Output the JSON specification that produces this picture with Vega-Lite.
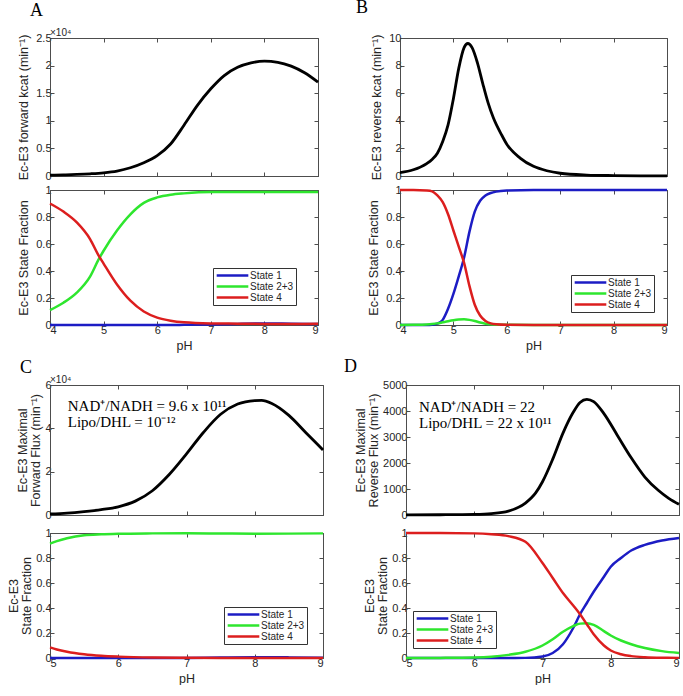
{
"$schema": "https://vega.github.io/schema/vega-lite/v6.json",
"background": "white",
"padding": {"left": 7, "top": -2, "right": 0, "bottom": 0},
"spacing": 5,
"resolve": {"scale": {"color": "independent"}, "legend": {"color": "independent"}},
"config": {
 "font": "Liberation Sans",
 "view": {"stroke": "#4d4d4d", "strokeWidth": 1},
 "axis": {"grid": false, "labelFont": "Liberation Sans", "labelFontSize": 11, "labelColor": "#262626", "titleFont": "Liberation Sans", "titleFontSize": 12.5, "titleFontWeight": "normal", "titleColor": "#262626", "domainColor": "#4d4d4d", "tickColor": "#4d4d4d", "tickSize": -4, "labelPadding": 3, "titlePadding": 4},
 "axisY": {"titlePadding": 5},
 "legend": {"orient": "none", "symbolType": "stroke", "symbolSize": 1000, "symbolStrokeWidth": 2.5, "clipHeight": 11, "labelFont": "Liberation Sans", "labelFontSize": 10, "labelColor": "#262626", "fillColor": "white", "strokeColor": "#333333", "padding": 2, "rowPadding": 0, "labelOffset": 0},
 "title": {"font": "Liberation Serif", "fontSize": 18, "fontWeight": "normal", "color": "black", "anchor": "start", "frame": "group", "offset": 18, "baseline": "alphabetic"}
},
"datasets": {
 "A_kcat": [{"pH":4,"v":0.015},{"pH":4.25,"v":0.02},{"pH":4.5,"v":0.028},{"pH":4.75,"v":0.04},{"pH":5,"v":0.058},{"pH":5.25,"v":0.09},{"pH":5.5,"v":0.15},{"pH":5.75,"v":0.24},{"pH":6,"v":0.37},{"pH":6.25,"v":0.58},{"pH":6.5,"v":0.92},{"pH":6.75,"v":1.28},{"pH":7,"v":1.58},{"pH":7.25,"v":1.82},{"pH":7.5,"v":1.97},{"pH":7.75,"v":2.05},{"pH":8,"v":2.08},{"pH":8.25,"v":2.06},{"pH":8.5,"v":1.99},{"pH":8.75,"v":1.87},{"pH":9,"v":1.7}],
 "B_kcat": [{"pH":4,"v":0.25},{"pH":4.25,"v":0.45},{"pH":4.5,"v":0.9},{"pH":4.6,"v":1.2},{"pH":4.7,"v":1.65},{"pH":4.8,"v":2.5},{"pH":4.9,"v":3.7},{"pH":5,"v":5.6},{"pH":5.1,"v":7.8},{"pH":5.2,"v":9.3},{"pH":5.27,"v":9.6},{"pH":5.35,"v":9.3},{"pH":5.45,"v":8.2},{"pH":5.55,"v":6.7},{"pH":5.65,"v":5.3},{"pH":5.75,"v":4.2},{"pH":5.9,"v":3.0},{"pH":6,"v":2.3},{"pH":6.25,"v":1.3},{"pH":6.5,"v":0.7},{"pH":6.75,"v":0.38},{"pH":7,"v":0.2},{"pH":7.5,"v":0.07},{"pH":8,"v":0.03},{"pH":8.5,"v":0.01},{"pH":9,"v":0.005}],
 "C_kcat": [{"pH":5,"v":0.05},{"pH":5.25,"v":0.09},{"pH":5.5,"v":0.16},{"pH":5.75,"v":0.25},{"pH":6,"v":0.38},{"pH":6.25,"v":0.64},{"pH":6.5,"v":1.12},{"pH":6.75,"v":1.88},{"pH":7,"v":2.82},{"pH":7.25,"v":3.82},{"pH":7.5,"v":4.65},{"pH":7.75,"v":5.12},{"pH":8,"v":5.28},{"pH":8.1,"v":5.29},{"pH":8.25,"v":5.15},{"pH":8.5,"v":4.6},{"pH":8.75,"v":3.8},{"pH":9,"v":3.0}],
 "D_kcat": [{"pH":5,"v":5},{"pH":5.5,"v":10},{"pH":6,"v":25},{"pH":6.25,"v":55},{"pH":6.5,"v":150},{"pH":6.75,"v":460},{"pH":6.9,"v":850},{"pH":7,"v":1280},{"pH":7.15,"v":2150},{"pH":7.3,"v":3150},{"pH":7.45,"v":3950},{"pH":7.55,"v":4330},{"pH":7.65,"v":4450},{"pH":7.75,"v":4360},{"pH":7.9,"v":3900},{"pH":8.1,"v":3050},{"pH":8.3,"v":2200},{"pH":8.5,"v":1460},{"pH":8.7,"v":940},{"pH":8.85,"v":640},{"pH":9,"v":410}],
 "A_frac": [
  {"pH":4,"s":"State 1","v":0},{"pH":4.25,"s":"State 1","v":0},{"pH":4.5,"s":"State 1","v":0},{"pH":4.75,"s":"State 1","v":0},{"pH":4.9,"s":"State 1","v":0},{"pH":5,"s":"State 1","v":0},{"pH":5.25,"s":"State 1","v":0},{"pH":5.5,"s":"State 1","v":0},{"pH":5.75,"s":"State 1","v":0},{"pH":6,"s":"State 1","v":0},{"pH":6.25,"s":"State 1","v":0},{"pH":6.5,"s":"State 1","v":0.001},{"pH":7,"s":"State 1","v":0.003},{"pH":7.5,"s":"State 1","v":0.008},{"pH":8,"s":"State 1","v":0.011},{"pH":8.5,"s":"State 1","v":0.01},{"pH":9,"s":"State 1","v":0.007},
  {"pH":4,"s":"State 2+3","v":0.11},{"pH":4.25,"s":"State 2+3","v":0.165},{"pH":4.5,"s":"State 2+3","v":0.24},{"pH":4.75,"s":"State 2+3","v":0.36},{"pH":4.9,"s":"State 2+3","v":0.48},{"pH":5,"s":"State 2+3","v":0.55},{"pH":5.25,"s":"State 2+3","v":0.7},{"pH":5.5,"s":"State 2+3","v":0.82},{"pH":5.75,"s":"State 2+3","v":0.905},{"pH":6,"s":"State 2+3","v":0.945},{"pH":6.25,"s":"State 2+3","v":0.965},{"pH":6.5,"s":"State 2+3","v":0.975},{"pH":7,"s":"State 2+3","v":0.985},{"pH":7.5,"s":"State 2+3","v":0.985},{"pH":8,"s":"State 2+3","v":0.985},{"pH":8.5,"s":"State 2+3","v":0.985},{"pH":9,"s":"State 2+3","v":0.985},
  {"pH":4,"s":"State 4","v":0.9},{"pH":4.25,"s":"State 4","v":0.84},{"pH":4.5,"s":"State 4","v":0.76},{"pH":4.75,"s":"State 4","v":0.635},{"pH":4.9,"s":"State 4","v":0.52},{"pH":5,"s":"State 4","v":0.455},{"pH":5.25,"s":"State 4","v":0.3},{"pH":5.5,"s":"State 4","v":0.18},{"pH":5.75,"s":"State 4","v":0.1},{"pH":6,"s":"State 4","v":0.055},{"pH":6.25,"s":"State 4","v":0.032},{"pH":6.5,"s":"State 4","v":0.02},{"pH":7,"s":"State 4","v":0.012},{"pH":7.5,"s":"State 4","v":0.01},{"pH":8,"s":"State 4","v":0.008},{"pH":8.5,"s":"State 4","v":0.008},{"pH":9,"s":"State 4","v":0.01}
 ],
 "B_frac": [
  {"pH":4,"s":"State 1","v":0},{"pH":4.25,"s":"State 1","v":0},{"pH":4.5,"s":"State 1","v":0},{"pH":4.6,"s":"State 1","v":0.002},{"pH":4.7,"s":"State 1","v":0.01},{"pH":4.8,"s":"State 1","v":0.038},{"pH":4.9,"s":"State 1","v":0.12},{"pH":5,"s":"State 1","v":0.23},{"pH":5.1,"s":"State 1","v":0.36},{"pH":5.2,"s":"State 1","v":0.5},{"pH":5.3,"s":"State 1","v":0.69},{"pH":5.4,"s":"State 1","v":0.84},{"pH":5.5,"s":"State 1","v":0.92},{"pH":5.6,"s":"State 1","v":0.96},{"pH":5.7,"s":"State 1","v":0.978},{"pH":5.8,"s":"State 1","v":0.988},{"pH":6,"s":"State 1","v":0.996},{"pH":6.5,"s":"State 1","v":1},{"pH":7,"s":"State 1","v":1},{"pH":8,"s":"State 1","v":1},{"pH":9,"s":"State 1","v":1},
  {"pH":4,"s":"State 2+3","v":0},{"pH":4.25,"s":"State 2+3","v":0.001},{"pH":4.5,"s":"State 2+3","v":0.004},{"pH":4.6,"s":"State 2+3","v":0.007},{"pH":4.7,"s":"State 2+3","v":0.012},{"pH":4.8,"s":"State 2+3","v":0.02},{"pH":4.9,"s":"State 2+3","v":0.028},{"pH":5,"s":"State 2+3","v":0.035},{"pH":5.1,"s":"State 2+3","v":0.04},{"pH":5.2,"s":"State 2+3","v":0.042},{"pH":5.3,"s":"State 2+3","v":0.038},{"pH":5.4,"s":"State 2+3","v":0.03},{"pH":5.5,"s":"State 2+3","v":0.018},{"pH":5.6,"s":"State 2+3","v":0.01},{"pH":5.7,"s":"State 2+3","v":0.005},{"pH":5.8,"s":"State 2+3","v":0.002},{"pH":6,"s":"State 2+3","v":0.001},{"pH":6.5,"s":"State 2+3","v":0},{"pH":7,"s":"State 2+3","v":0},{"pH":8,"s":"State 2+3","v":0},{"pH":9,"s":"State 2+3","v":0},
  {"pH":4,"s":"State 4","v":1},{"pH":4.25,"s":"State 4","v":1},{"pH":4.5,"s":"State 4","v":0.996},{"pH":4.6,"s":"State 4","v":0.99},{"pH":4.7,"s":"State 4","v":0.96},{"pH":4.8,"s":"State 4","v":0.91},{"pH":4.9,"s":"State 4","v":0.82},{"pH":5,"s":"State 4","v":0.7},{"pH":5.1,"s":"State 4","v":0.58},{"pH":5.2,"s":"State 4","v":0.46},{"pH":5.3,"s":"State 4","v":0.29},{"pH":5.4,"s":"State 4","v":0.15},{"pH":5.5,"s":"State 4","v":0.07},{"pH":5.6,"s":"State 4","v":0.03},{"pH":5.7,"s":"State 4","v":0.012},{"pH":5.8,"s":"State 4","v":0.005},{"pH":6,"s":"State 4","v":0.001},{"pH":6.5,"s":"State 4","v":0},{"pH":7,"s":"State 4","v":0},{"pH":8,"s":"State 4","v":0},{"pH":9,"s":"State 4","v":0}
 ],
 "C_frac": [
  {"pH":5,"s":"State 1","v":0},{"pH":5.1,"s":"State 1","v":0},{"pH":5.25,"s":"State 1","v":0},{"pH":5.5,"s":"State 1","v":0},{"pH":5.75,"s":"State 1","v":0},{"pH":6,"s":"State 1","v":0},{"pH":6.5,"s":"State 1","v":0},{"pH":7,"s":"State 1","v":0.001},{"pH":7.5,"s":"State 1","v":0.004},{"pH":8,"s":"State 1","v":0.006},{"pH":8.5,"s":"State 1","v":0.005},{"pH":9,"s":"State 1","v":0.003},
  {"pH":5,"s":"State 2+3","v":0.915},{"pH":5.1,"s":"State 2+3","v":0.935},{"pH":5.25,"s":"State 2+3","v":0.958},{"pH":5.5,"s":"State 2+3","v":0.982},{"pH":5.75,"s":"State 2+3","v":0.99},{"pH":6,"s":"State 2+3","v":0.994},{"pH":6.5,"s":"State 2+3","v":0.997},{"pH":7,"s":"State 2+3","v":0.998},{"pH":7.5,"s":"State 2+3","v":0.996},{"pH":8,"s":"State 2+3","v":0.994},{"pH":8.5,"s":"State 2+3","v":0.995},{"pH":9,"s":"State 2+3","v":0.997},
  {"pH":5,"s":"State 4","v":0.085},{"pH":5.1,"s":"State 4","v":0.068},{"pH":5.25,"s":"State 4","v":0.05},{"pH":5.5,"s":"State 4","v":0.03},{"pH":5.75,"s":"State 4","v":0.018},{"pH":6,"s":"State 4","v":0.011},{"pH":6.5,"s":"State 4","v":0.004},{"pH":7,"s":"State 4","v":0.002},{"pH":7.5,"s":"State 4","v":0.001},{"pH":8,"s":"State 4","v":0.001},{"pH":8.5,"s":"State 4","v":0.001},{"pH":9,"s":"State 4","v":0.001}
 ],
 "D_frac": [
  {"pH":5,"s":"State 1","v":0},{"pH":5.5,"s":"State 1","v":0},{"pH":6,"s":"State 1","v":0},{"pH":6.25,"s":"State 1","v":0},{"pH":6.5,"s":"State 1","v":0},{"pH":6.75,"s":"State 1","v":0.001},{"pH":7,"s":"State 1","v":0.012},{"pH":7.15,"s":"State 1","v":0.04},{"pH":7.3,"s":"State 1","v":0.11},{"pH":7.45,"s":"State 1","v":0.24},{"pH":7.55,"s":"State 1","v":0.35},{"pH":7.65,"s":"State 1","v":0.44},{"pH":7.75,"s":"State 1","v":0.53},{"pH":7.9,"s":"State 1","v":0.65},{"pH":8,"s":"State 1","v":0.73},{"pH":8.15,"s":"State 1","v":0.8},{"pH":8.3,"s":"State 1","v":0.86},{"pH":8.5,"s":"State 1","v":0.905},{"pH":8.75,"s":"State 1","v":0.94},{"pH":9,"s":"State 1","v":0.96},
  {"pH":5,"s":"State 2+3","v":0},{"pH":5.5,"s":"State 2+3","v":0.001},{"pH":6,"s":"State 2+3","v":0.004},{"pH":6.25,"s":"State 2+3","v":0.01},{"pH":6.5,"s":"State 2+3","v":0.025},{"pH":6.75,"s":"State 2+3","v":0.05},{"pH":7,"s":"State 2+3","v":0.1},{"pH":7.15,"s":"State 2+3","v":0.15},{"pH":7.3,"s":"State 2+3","v":0.21},{"pH":7.45,"s":"State 2+3","v":0.255},{"pH":7.55,"s":"State 2+3","v":0.275},{"pH":7.65,"s":"State 2+3","v":0.278},{"pH":7.75,"s":"State 2+3","v":0.265},{"pH":7.9,"s":"State 2+3","v":0.215},{"pH":8,"s":"State 2+3","v":0.18},{"pH":8.15,"s":"State 2+3","v":0.14},{"pH":8.3,"s":"State 2+3","v":0.11},{"pH":8.5,"s":"State 2+3","v":0.08},{"pH":8.75,"s":"State 2+3","v":0.055},{"pH":9,"s":"State 2+3","v":0.04},
  {"pH":5,"s":"State 4","v":1},{"pH":5.5,"s":"State 4","v":1},{"pH":6,"s":"State 4","v":0.997},{"pH":6.25,"s":"State 4","v":0.99},{"pH":6.5,"s":"State 4","v":0.975},{"pH":6.75,"s":"State 4","v":0.93},{"pH":7,"s":"State 4","v":0.76},{"pH":7.15,"s":"State 4","v":0.64},{"pH":7.3,"s":"State 4","v":0.52},{"pH":7.45,"s":"State 4","v":0.42},{"pH":7.55,"s":"State 4","v":0.35},{"pH":7.65,"s":"State 4","v":0.27},{"pH":7.75,"s":"State 4","v":0.19},{"pH":7.9,"s":"State 4","v":0.1},{"pH":8,"s":"State 4","v":0.06},{"pH":8.15,"s":"State 4","v":0.03},{"pH":8.3,"s":"State 4","v":0.015},{"pH":8.5,"s":"State 4","v":0.006},{"pH":8.75,"s":"State 4","v":0.002},{"pH":9,"s":"State 4","v":0.001}
 ]
},
"vconcat": [
 {"hconcat": [
  {"vconcat": [
   {"width": 268, "height": 138, "title": {"text": "A", "dx": -20, "offset": 8}, "data": {"name": "A_kcat"},
    "layer": [
     {"mark": {"type": "line", "color": "black", "strokeWidth": 2.8, "interpolate": "monotone"},
      "encoding": {"x": {"field": "pH", "type": "quantitative", "scale": {"domain": [4, 9], "nice": false}, "axis": {"values": [4,5,6,7,8,9], "labels": false, "title": null}},
                   "y": {"field": "v", "type": "quantitative", "scale": {"domain": [0, 2.5], "nice": false}, "axis": {"values": [0,0.5,1,1.5,2,2.5], "format": ".2~f", "title": "Ec-E3 forward kcat (min⁻¹)"}}}},
     {"mark": {"type": "line", "strokeOpacity": 0},
      "encoding": {"x": {"field": "pH", "type": "quantitative", "axis": {"orient": "top", "values": [4,5,6,7,8,9], "labels": false, "title": null, "domain": false}},
                   "y": {"field": "v", "type": "quantitative", "axis": {"orient": "right", "values": [0,0.5,1,1.5,2,2.5], "labels": false, "title": null, "domain": false}}}},
     {"data": {"values": [{"t": "×10⁴"}]}, "mark": {"type": "text", "align": "left", "baseline": "alphabetic", "dy": -2, "fontSize": 10, "color": "#262626"},
      "encoding": {"x": {"datum": 4, "type": "quantitative", "axis": null}, "y": {"datum": 2.5, "type": "quantitative", "axis": null}, "text": {"field": "t"}}}
    ],
    "resolve": {"axis": {"x": "independent", "y": "independent"}}},
   {"width": 268, "height": 135, "data": {"name": "A_frac"},
    "layer": [
     {"mark": {"type": "line", "strokeWidth": 2.5, "interpolate": "monotone"},
      "encoding": {"x": {"field": "pH", "type": "quantitative", "scale": {"domain": [4, 9], "nice": false}, "axis": {"values": [4,5,6,7,8,9], "format": "d", "title": "pH"}},
                   "y": {"field": "v", "type": "quantitative", "scale": {"domain": [0, 1], "nice": false}, "axis": {"values": [0,0.2,0.4,0.6,0.8,1], "format": ".1~f", "title": "Ec-E3 State Fraction"}},
                   "color": {"field": "s", "type": "nominal", "scale": {"domain": ["State 1","State 2+3","State 4"], "range": ["#1c1cc4","#2ee62e","#dc1e1e"]}, "legend": {"title": null, "legendX": 163, "legendY": 78}}}},
     {"mark": {"type": "line", "strokeOpacity": 0},
      "encoding": {"x": {"field": "pH", "type": "quantitative", "axis": {"orient": "top", "values": [4,5,6,7,8,9], "labels": false, "title": null, "domain": false}},
                   "y": {"field": "v", "type": "quantitative", "axis": {"orient": "right", "values": [0,0.2,0.4,0.6,0.8,1], "labels": false, "title": null, "domain": false}},
                   "detail": {"field": "s"}}}
    ],
    "resolve": {"axis": {"x": "independent", "y": "independent"}}}
  ], "spacing": 14, "bounds": "flush", "resolve": {"scale": {"color": "independent"}, "legend": {"color": "independent"}}},
  {"vconcat": [
   {"width": 267, "height": 138, "title": {"text": "B", "dx": -44, "offset": 15}, "data": {"name": "B_kcat"},
    "layer": [
     {"mark": {"type": "line", "color": "black", "strokeWidth": 2.8, "interpolate": "monotone"},
      "encoding": {"x": {"field": "pH", "type": "quantitative", "scale": {"domain": [4, 9], "nice": false}, "axis": {"values": [4,5,6,7,8,9], "labels": false, "title": null}},
                   "y": {"field": "v", "type": "quantitative", "scale": {"domain": [0, 10], "nice": false}, "axis": {"values": [0,2,4,6,8,10], "format": "d", "title": "Ec-E3 reverse kcat (min⁻¹)"}}}},
     {"mark": {"type": "line", "strokeOpacity": 0},
      "encoding": {"x": {"field": "pH", "type": "quantitative", "axis": {"orient": "top", "values": [4,5,6,7,8,9], "labels": false, "title": null, "domain": false}},
                   "y": {"field": "v", "type": "quantitative", "axis": {"orient": "right", "values": [0,2,4,6,8,10], "labels": false, "title": null, "domain": false}}}}
    ],
    "resolve": {"axis": {"x": "independent", "y": "independent"}}},
   {"width": 267, "height": 135, "data": {"name": "B_frac"},
    "layer": [
     {"mark": {"type": "line", "strokeWidth": 2.5, "interpolate": "monotone"},
      "encoding": {"x": {"field": "pH", "type": "quantitative", "scale": {"domain": [4, 9], "nice": false}, "axis": {"values": [4,5,6,7,8,9], "format": "d", "title": "pH"}},
                   "y": {"field": "v", "type": "quantitative", "scale": {"domain": [0, 1], "nice": false}, "axis": {"values": [0,0.2,0.4,0.6,0.8,1], "format": ".1~f", "title": "Ec-E3 State Fraction"}},
                   "color": {"field": "s", "type": "nominal", "scale": {"domain": ["State 1","State 2+3","State 4"], "range": ["#1c1cc4","#2ee62e","#dc1e1e"]}, "legend": {"title": null, "legendX": 171, "legendY": 85}}}},
     {"mark": {"type": "line", "strokeOpacity": 0},
      "encoding": {"x": {"field": "pH", "type": "quantitative", "axis": {"orient": "top", "values": [4,5,6,7,8,9], "labels": false, "title": null, "domain": false}},
                   "y": {"field": "v", "type": "quantitative", "axis": {"orient": "right", "values": [0,0.2,0.4,0.6,0.8,1], "labels": false, "title": null, "domain": false}},
                   "detail": {"field": "s"}}}
    ],
    "resolve": {"axis": {"x": "independent", "y": "independent"}}}
  ], "spacing": 14, "bounds": "flush", "resolve": {"scale": {"color": "independent"}, "legend": {"color": "independent"}}}
 ], "spacing": 30, "resolve": {"scale": {"color": "independent"}, "legend": {"color": "independent"}}},
 {"hconcat": [
  {"vconcat": [
   {"width": 273, "height": 130, "title": {"text": "C", "dx": -30, "offset": -2}, "data": {"name": "C_kcat"},
    "layer": [
     {"mark": {"type": "line", "color": "black", "strokeWidth": 2.8, "interpolate": "monotone"},
      "encoding": {"x": {"field": "pH", "type": "quantitative", "scale": {"domain": [5, 9], "nice": false}, "axis": {"values": [5,6,7,8,9], "labels": false, "title": null}},
                   "y": {"field": "v", "type": "quantitative", "scale": {"domain": [0, 6], "nice": false}, "axis": {"values": [0,2,4,6], "format": "d", "titlePadding": 2, "titleLineHeight": 13, "title": ["Ec-E3 Maximal", "Forward Flux (min⁻¹)"]}}}},
     {"mark": {"type": "line", "strokeOpacity": 0},
      "encoding": {"x": {"field": "pH", "type": "quantitative", "axis": {"orient": "top", "values": [5,6,7,8,9], "labels": false, "title": null, "domain": false}},
                   "y": {"field": "v", "type": "quantitative", "axis": {"orient": "right", "values": [0,2,4,6], "labels": false, "title": null, "domain": false}}}},
     {"data": {"values": [{"t": "×10⁴"}]}, "mark": {"type": "text", "align": "left", "baseline": "alphabetic", "dy": -2, "fontSize": 10, "color": "#262626"},
      "encoding": {"x": {"datum": 5, "type": "quantitative", "axis": null}, "y": {"datum": 6, "type": "quantitative", "axis": null}, "text": {"field": "t"}}},
     {"data": {"values": [{"x": 5.26, "y": 5.03, "t": "NAD⁺/NADH = 9.6 x 10¹¹"}, {"x": 5.26, "y": 4.29, "t": "Lipo/DHL = 10⁻¹²"}]},
      "mark": {"type": "text", "align": "left", "baseline": "middle", "font": "Liberation Serif", "fontSize": 15, "color": "black"},
      "encoding": {"x": {"field": "x", "type": "quantitative", "axis": null}, "y": {"field": "y", "type": "quantitative", "axis": null}, "text": {"field": "t"}}}
    ],
    "resolve": {"axis": {"x": "independent", "y": "independent"}}},
   {"width": 273, "height": 125, "data": {"name": "C_frac"},
    "layer": [
     {"mark": {"type": "line", "strokeWidth": 2.5, "interpolate": "monotone"},
      "encoding": {"x": {"field": "pH", "type": "quantitative", "scale": {"domain": [5, 9], "nice": false}, "axis": {"values": [5,6,7,8,9], "format": "d", "title": "pH"}},
                   "y": {"field": "v", "type": "quantitative", "scale": {"domain": [0, 1], "nice": false}, "axis": {"values": [0,0.2,0.4,0.6,0.8,1], "format": ".1~f", "titlePadding": 2, "titleLineHeight": 13, "title": ["Ec-E3", "State Fraction"]}},
                   "color": {"field": "s", "type": "nominal", "scale": {"domain": ["State 1","State 2+3","State 4"], "range": ["#1c1cc4","#2ee62e","#dc1e1e"]}, "legend": {"title": null, "legendX": 174, "legendY": 74}}}},
     {"mark": {"type": "line", "strokeOpacity": 0},
      "encoding": {"x": {"field": "pH", "type": "quantitative", "axis": {"orient": "top", "values": [5,6,7,8,9], "labels": false, "title": null, "domain": false}},
                   "y": {"field": "v", "type": "quantitative", "axis": {"orient": "right", "values": [0,0.2,0.4,0.6,0.8,1], "labels": false, "title": null, "domain": false}},
                   "detail": {"field": "s"}}}
    ],
    "resolve": {"axis": {"x": "independent", "y": "independent"}}}
  ], "spacing": 18, "bounds": "flush", "resolve": {"scale": {"color": "independent"}, "legend": {"color": "independent"}}},
  {"vconcat": [
   {"width": 273, "height": 130, "title": {"text": "D", "dx": -62, "offset": 3}, "data": {"name": "D_kcat"},
    "layer": [
     {"mark": {"type": "line", "color": "black", "strokeWidth": 2.8, "interpolate": "monotone"},
      "encoding": {"x": {"field": "pH", "type": "quantitative", "scale": {"domain": [5, 9], "nice": false}, "axis": {"values": [5,6,7,8,9], "labels": false, "title": null}},
                   "y": {"field": "v", "type": "quantitative", "scale": {"domain": [0, 5000], "nice": false}, "axis": {"values": [0,1000,2000,3000,4000,5000], "format": "d", "titlePadding": 2, "titleLineHeight": 13, "title": ["Ec-E3 Maximal", "Reverse Flux (min⁻¹)"]}}}},
     {"mark": {"type": "line", "strokeOpacity": 0},
      "encoding": {"x": {"field": "pH", "type": "quantitative", "axis": {"orient": "top", "values": [5,6,7,8,9], "labels": false, "title": null, "domain": false}},
                   "y": {"field": "v", "type": "quantitative", "axis": {"orient": "right", "values": [0,1000,2000,3000,4000,5000], "labels": false, "title": null, "domain": false}}}},
     {"data": {"values": [{"x": 5.19, "y": 4150, "t": "NAD⁺/NADH = 22"}, {"x": 5.19, "y": 3540, "t": "Lipo/DHL = 22 x 10¹¹"}]},
      "mark": {"type": "text", "align": "left", "baseline": "middle", "font": "Liberation Serif", "fontSize": 15, "color": "black"},
      "encoding": {"x": {"field": "x", "type": "quantitative", "axis": null}, "y": {"field": "y", "type": "quantitative", "axis": null}, "text": {"field": "t"}}}
    ],
    "resolve": {"axis": {"x": "independent", "y": "independent"}}},
   {"width": 273, "height": 125, "data": {"name": "D_frac"},
    "layer": [
     {"mark": {"type": "line", "strokeWidth": 2.5, "interpolate": "monotone"},
      "encoding": {"x": {"field": "pH", "type": "quantitative", "scale": {"domain": [5, 9], "nice": false}, "axis": {"values": [5,6,7,8,9], "format": "d", "title": "pH"}},
                   "y": {"field": "v", "type": "quantitative", "scale": {"domain": [0, 1], "nice": false}, "axis": {"values": [0,0.2,0.4,0.6,0.8,1], "format": ".1~f", "titlePadding": 2, "titleLineHeight": 13, "title": ["Ec-E3", "State Fraction"]}},
                   "color": {"field": "s", "type": "nominal", "scale": {"domain": ["State 1","State 2+3","State 4"], "range": ["#1c1cc4","#2ee62e","#dc1e1e"]}, "legend": {"title": null, "legendX": 7, "legendY": 78}}}},
     {"mark": {"type": "line", "strokeOpacity": 0},
      "encoding": {"x": {"field": "pH", "type": "quantitative", "axis": {"orient": "top", "values": [5,6,7,8,9], "labels": false, "title": null, "domain": false}},
                   "y": {"field": "v", "type": "quantitative", "axis": {"orient": "right", "values": [0,0.2,0.4,0.6,0.8,1], "labels": false, "title": null, "domain": false}},
                   "detail": {"field": "s"}}}
    ],
    "resolve": {"axis": {"x": "independent", "y": "independent"}}}
  ], "spacing": 18, "bounds": "flush", "resolve": {"scale": {"color": "independent"}, "legend": {"color": "independent"}}}
 ], "spacing": 13, "resolve": {"scale": {"color": "independent"}, "legend": {"color": "independent"}}}
]
}
